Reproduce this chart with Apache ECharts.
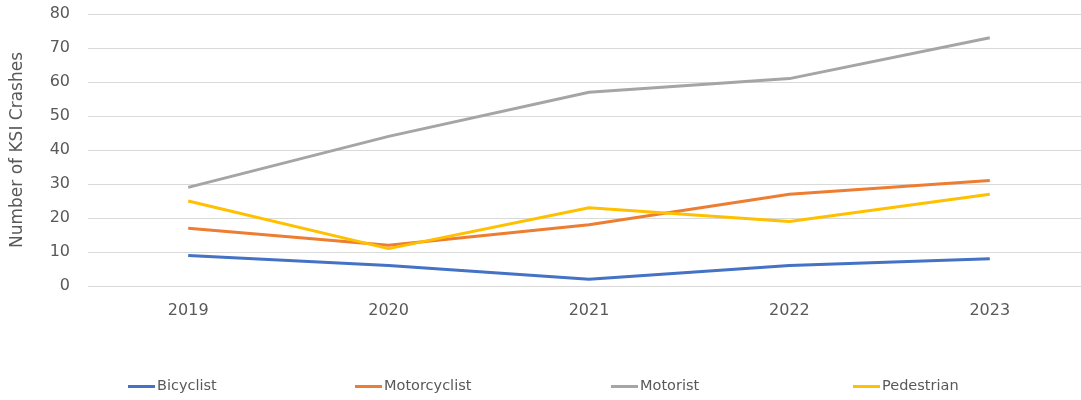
<!DOCTYPE html>
<html>
<head>
<meta charset="utf-8">
<script src="https://cdn.jsdelivr.net/npm/echarts@6/dist/echarts.min.js"></script>
<style>
  html, body { margin: 0; padding: 0; background: #fff; }
  #chart { width: 1081px; height: 400px; }
</style>
</head>
<body>
<div id="chart"></div>
<script>
const years = ['2019', '2020', '2021', '2022', '2023'];
const bicyclist = [9, 6, 2, 6, 8];
const motorcyclist = [17, 12, 18, 27, 31];
const motorist = [29, 44, 57, 61, 73];
const pedestrian = [25, 11, 23, 19, 27];

const names = ['Bicyclist', 'Motorcyclist', 'Motorist', 'Pedestrian'];
const colors = ['#4472C4', '#ED7D31', '#A5A5A5', '#FFC000'];
const values = [bicyclist, motorcyclist, motorist, pedestrian];
const legendLeft = [123, 350, 606, 848];

const font = '"DejaVu Sans", sans-serif';
const txt = '#595959';

const chart = echarts.init(document.getElementById('chart'));

chart.setOption({
  animation: false,
  color: colors,
  textStyle: { fontFamily: font },
  grid: { left: 88, top: 14, width: 1002, height: 272, containLabel: false, outerBoundsMode: 'none' },
  legend: names.map((n, i) => ({
    data: [n],
    left: legendLeft[i],
    top: 374,
    itemWidth: 27,
    itemHeight: 3,
    itemGap: 0,
    icon: 'rect',
    textStyle: { fontSize: 14.5, color: txt, fontFamily: font, padding: [0, 0, 0, -3] }
  })),
  xAxis: {
    type: 'category',
    data: years,
    boundaryGap: true,
    axisLine: { show: false },
    axisTick: { show: false },
    axisLabel: { fontSize: 16, color: txt, margin: 17 }
  },
  yAxis: {
    type: 'value',
    min: 0,
    max: 80,
    interval: 10,
    name: 'Number of KSI Crashes',
    nameLocation: 'middle',
    nameGap: 62,
    nameTextStyle: { fontSize: 17, color: txt },
    axisLine: { show: false },
    axisTick: { show: false },
    axisLabel: { fontSize: 16, color: txt, margin: 18 },
    splitLine: { lineStyle: { color: '#D9D9D9', width: 1 } }
  },
  series: names.map((n, i) => ({
    name: n,
    type: 'line',
    data: values[i],
    symbol: 'none',
    lineStyle: { width: 3, color: colors[i] },
    itemStyle: { color: colors[i] }
  }))
});
</script>
</body>
</html>
